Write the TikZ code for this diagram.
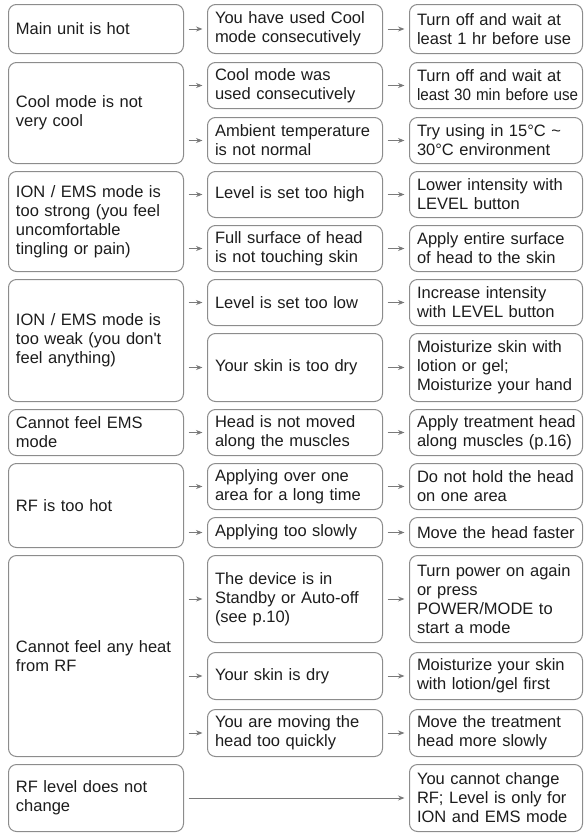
\documentclass[tikz,border=0pt]{standalone}
\usepackage{fontspec}
\setmainfont{Liberation Sans}
\usepackage{tikz}
\usetikzlibrary{arrows.meta}
\definecolor{linec}{HTML}{8C8C8C}
\definecolor{arrc}{HTML}{7A7A7A}
\definecolor{txtc}{HTML}{1C1C1C}
\tikzset{
  box/.style={draw=linec,line width=1pt,rounded corners=8pt,anchor=north west,align=left,inner xsep=7.5pt,inner ysep=2pt,text=txtc,font=\fontsize{16.5}{19}\selectfont},
  pbox/.style={box,text width=160pt,minimum height=#1},
  cbox/.style={box,text width=160pt,minimum height=#1},
  sbox/.style={box,text width=158pt,minimum height=#1},
  ar/.style={-{Stealth[length=6.5pt,width=5pt]},line width=1pt,arrc,shorten <=4.5pt,shorten >=4.5pt}
}
\begin{document}
\begin{tikzpicture}[x=1pt,y=-1pt]
\useasboundingbox (0,0) rectangle (588,839);
\node[pbox=49pt] (p1) at (8,4) {Main unit is hot};
\node[cbox=49pt] (c1) at (207,4) {You have used Cool\\mode consecutively};
\node[sbox=49pt] (s1) at (409,4) {Turn off and wait at\\least 1 hr before use};
\node[pbox=101pt] (p2) at (8,62) {Cool mode is not\\very cool};
\node[cbox=46pt] (c2a) at (207,62) {Cool mode was\\used consecutively};
\node[sbox=46pt] (s2a) at (409,62) {Turn off and wait at\\\scalebox{0.92}[1]{least 30 min before use}};
\node[cbox=46pt] (c2b) at (207,117) {Ambient temperature\\is not normal};
\node[sbox=46pt] (s2b) at (409,117) {Try using in 15°C \textasciitilde\\30°C environment};
\node[pbox=100pt] (p3) at (8,171) {ION / EMS mode is\\too strong (you feel\\uncomfortable\\tingling or pain)};
\node[cbox=46pt] (c3a) at (207,171) {Level is set too high};
\node[sbox=46pt] (s3a) at (409,171) {Lower intensity with\\LEVEL button};
\node[cbox=46pt] (c3b) at (207,225) {Full surface of head\\is not touching skin};
\node[sbox=46pt] (s3b) at (409,225) {Apply entire surface\\of head to the skin};
\node[pbox=122pt] (p4) at (8,279) {ION / EMS mode is\\too weak (you don\textquotesingle t\\feel anything)};
\node[cbox=46pt] (c4a) at (207,279) {Level is set too low};
\node[sbox=46pt] (s4a) at (409,279) {Increase intensity\\with LEVEL button};
\node[cbox=68pt] (c4b) at (207,333) {Your skin is too dry};
\node[sbox=68pt] (s4b) at (409,333) {Moisturize skin with\\lotion or gel;\\Moisturize your hand};
\node[pbox=46pt] (p5) at (8,409) {Cannot feel EMS\\mode};
\node[cbox=46pt] (c5) at (207,409) {Head is not moved\\along the muscles};
\node[sbox=46pt] (s5) at (409,409) {\mbox{Apply treatment head}\\along muscles (p.16)};
\node[pbox=84pt] (p6) at (8,463) {RF is too hot};
\node[cbox=46pt] (c6a) at (207,463) {Applying over one\\area for a long time};
\node[sbox=46pt] (s6a) at (409,463) {Do not hold the head\\on one area};
\node[cbox=30pt] (c6b) at (207,517) {Applying too slowly};
\node[sbox=30pt] (s6b) at (409,517) {Move the head faster};
\node[pbox=201pt] (p7) at (8,555) {Cannot feel any heat\\from RF};
\node[cbox=87pt] (c7a) at (207,555) {The device is in\\Standby or Auto-off\\(see p.10)};
\node[sbox=87pt] (s7a) at (409,555) {Turn power on again\\or press\\POWER/MODE to\\start a mode};
\node[cbox=47pt] (c7b) at (207,652) {Your skin is dry};
\node[sbox=47pt] (s7b) at (409,652) {Moisturize your skin\\with lotion/gel first};
\node[cbox=47pt] (c7c) at (207,709) {You are moving the\\head too quickly};
\node[sbox=47pt] (s7c) at (409,709) {Move the treatment\\head more slowly};
\node[pbox=67pt] (p8) at (8,764) {RF level does not\\change};
\node[sbox=67pt] (s8) at (409,764) {You cannot change\\RF; Level is only for\\ION and EMS mode};
\foreach \a/\b in {p1/c1,c1/s1,p2/c2a,p2/c2b,c2a/s2a,c2b/s2b,p3/c3a,p3/c3b,c3a/s3a,c3b/s3b,
  p4/c4a,p4/c4b,c4a/s4a,c4b/s4b,p5/c5,c5/s5,p6/c6a,p6/c6b,c6a/s6a,c6b/s6b,
  p7/c7a,p7/c7b,p7/c7c,c7a/s7a,c7b/s7b,c7c/s7c,p8/s8}
  \draw[ar] (\a.east |- \b.west) -- (\b.west);
\end{tikzpicture}
\end{document}
